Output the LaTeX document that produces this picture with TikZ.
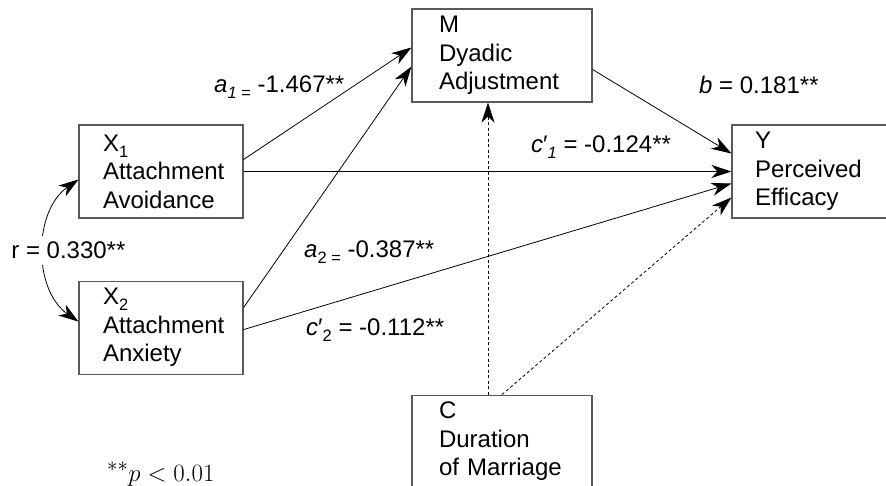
\documentclass[tikz,border=0pt]{standalone}
\usepackage[no-math]{fontspec}
\setmainfont{Liberation Sans}
\usetikzlibrary{arrows.meta,positioning}

\newcommand{\lsub}[1]{\raisebox{-6pt}{\fontsize{16.5}{16.5}\selectfont #1}}

\begin{document}
\begin{tikzpicture}[
        x=1pt, y=-1pt,
        font=\fontsize{24}{28.5}\selectfont,
        >={Stealth[length=20pt, width=13pt, inset=6pt]},
        varbox/.style={rectangle, draw=black!65, line width=1.1pt, align=left, minimum height=93pt, inner xsep=24pt, text width=116pt},
        widebox/.style={varbox, inner xsep=27pt, text width=126pt},
        line/.style={draw, ->, line width=0.8pt},
        dline/.style={line, dash pattern=on 3pt off 2.5pt},
        coef/.style={anchor=base west, inner sep=0pt}
    ]
        \useasboundingbox (0,0) rectangle (886,485);

        % Variables
        \node[varbox] (x1) at (161,171.5) {X\lsub{1}\\Attachment\\Avoidance};
        \node[varbox] (x2) [below=62pt of x1] {X\lsub{2}\\Attachment\\Anxiety};
        \node[widebox] (m) at (502,55.5) {M\\Dyadic\\Adjustment};
        \node[widebox] (c) [below=292pt of m] {C\\Duration\\of Marriage};
        \node[varbox, inner xsep=23pt, text width=118pt] (y) at (814,171.5) {Y\\Perceived\\Efficacy};

        % Connections
        \draw[line] ([yshift=12pt]x1.east) -- ([yshift=8pt]m.west);
        \draw[line] ([yshift=20pt]x2.east) -- ([yshift=-11pt]m.west);
        \draw[line] (x1.east) -- (y.west);
        \draw[line] ([yshift=-2pt]x2.east) -- ([yshift=-12pt]y.west);
        \draw[line] ([yshift=-14pt]m.east) -- ([yshift=18pt]y.west);
        \draw[dline] ([xshift=-14pt]c.north) -- ([xshift=-14pt]m.south);
        \draw[dline] (c.north) -- ([yshift=-26pt]y.west);
        \draw[<->, line width=0.8pt] ([yshift=-8pt]x1.west) to[bend right=55]
            node[fill=white, xshift=24pt, inner ysep=6pt] (corr) {r = 0.330**} ([yshift=6pt]x2.west);

        % Coefficients
        \node[coef] (la1) at (214,92) {\textit{a}\lsub{\textit{1} =} -1.467**};
        \node[coef] (lb) at (699,93) {\textit{b} = 0.181**};
        \node[coef] (lc1) at (531,152) {\textit{c}′\lsub{\textit{1}} = -0.124**};
        \node[coef] (la2) at (304,257) {\textit{a}\lsub{2 =} -0.387**};
        \node[coef] (lc2) at (306,335) {\textit{c}′\lsub{2} = -0.112**};
        \node[coef, font=\fontsize{24.88}{25}\selectfont] (note) at (107,481) {$^{**}p < 0.01$};
    \end{tikzpicture}
\end{document}
